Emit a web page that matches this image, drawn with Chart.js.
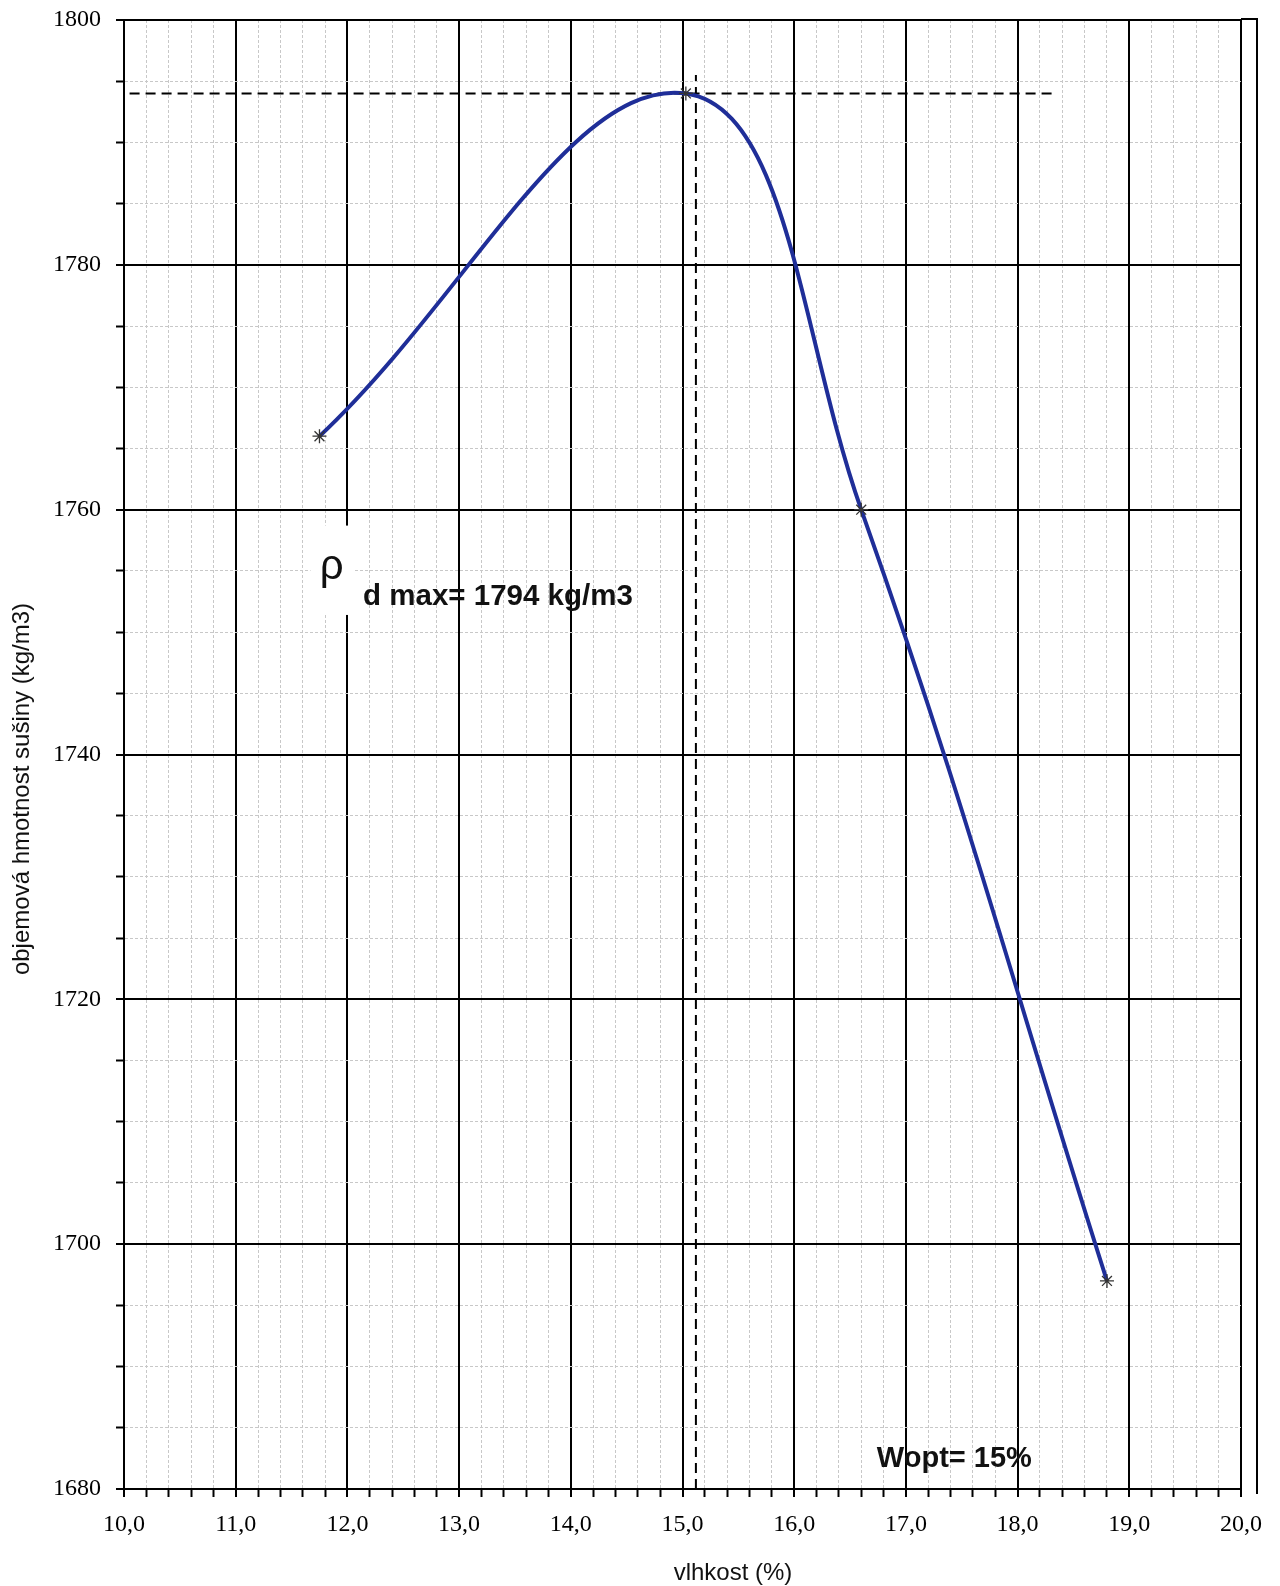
<!DOCTYPE html>
<html>
<head>
<meta charset="utf-8">
<script src="https://cdn.jsdelivr.net/npm/chart.js@4"></script>
<style>
  body { margin: 0; background: #fff; }
  #wrap { width: 1280px; height: 1586px; }
</style>
</head>
<body>
<div id="wrap"><canvas id="proctorChart" width="1280" height="1586"></canvas></div>
<script>
// measured points (moisture % / dry density kg/m3)
const moisture = [11.75, 15.03, 16.6, 18.8];
const density = [1766, 1794, 1760, 1697];

// optimum guide lines
const maxLineX = [10.05, 18.35];
const maxLineY = [1794, 1794];
const optLineX = [15.12, 15.12];
const optLineY = [1680, 1795.5];

const xTitle = 'vlhkost (%)';
const yTitle = 'objemová hmotnost sušiny (kg/m3)';
const rhoText = 'ρ';
const maxText = 'd max= 1794 kg/m3';
const optText = 'Wopt= 15%';

function toPoints(xs, ys) {
  var pts = [];
  for ( let i = 0; i < xs.length; i++ ) {
    pts.push({ x: xs[i], y: ys[i] });
  }
  return pts;
}

function isInt(v) {
  return Math.abs(v - Math.round(v)) < 1e-6;
}

// titles, texts and outer frame
const extras = {
  id: 'extras',
  beforeDatasetsDraw(chart) {
    const c = chart.ctx, x = chart.scales.x, y = chart.scales.y;
    // white box behind rho
    const x1 = x.getPixelForValue(11.67), x2 = x.getPixelForValue(12.05);
    const y1 = y.getPixelForValue(1758.7), y2 = y.getPixelForValue(1751.4);
    c.save();
    c.fillStyle = '#fff';
    c.fillRect(x1, y1, x2 - x1, y2 - y1);
    c.restore();
  },
  afterDraw(chart) {
    const c = chart.ctx, x = chart.scales.x, y = chart.scales.y;
    const a = chart.chartArea;
    c.save();
    // outer frame at right
    c.strokeStyle = '#000';
    c.lineWidth = 2;
    c.beginPath();
    c.moveTo(a.right, a.top - 1);
    c.lineTo(a.right + 16, a.top - 1);
    c.lineTo(a.right + 16, a.bottom + 5);
    c.stroke();

    c.fillStyle = '#111';
    c.textBaseline = 'alphabetic';
    c.font = '42px "Liberation Sans"';
    c.textAlign = 'center';
    c.fillText(rhoText, x.getPixelForValue(11.86), y.getPixelForValue(1754.3));
    c.textAlign = 'left';
    c.font = 'bold 29.5px "Liberation Sans"';
    c.fillText(maxText, x.getPixelForValue(12.14), y.getPixelForValue(1752.2));
    c.font = 'bold 29px "Liberation Sans"';
    c.fillText(optText, x.getPixelForValue(16.74), y.getPixelForValue(1681.8));

    // axis titles
    c.font = '24px "Liberation Sans"';
    c.textAlign = 'center';
    c.textBaseline = 'middle';
    c.fillText(xTitle, 733, 1573);
    c.translate(22, 789);
    c.rotate(-Math.PI / 2);
    c.fillText(yTitle, 0, 0);
    c.restore();
  }
};

const ctx = document.getElementById('proctorChart');
const chart = new Chart(ctx, {
  type: 'scatter',
  data: {
    datasets: [
      {
        label: 'rho d',
        data: toPoints(moisture, density),
        showLine: true,
        tension: 0.4,
        borderColor: '#1f2e98',
        borderWidth: 4,
        pointStyle: 'star',
        pointRadius: 7,
        pointBorderColor: '#333',
        pointBackgroundColor: '#333',
        pointBorderWidth: 1.3,
      },
      {
        label: 'max',
        data: toPoints(maxLineX, maxLineY),
        showLine: true,
        borderColor: '#000',
        borderWidth: 2,
        borderDash: [10, 6],
        pointRadius: 0,
      },
      {
        label: 'opt',
        data: toPoints(optLineX, optLineY),
        showLine: true,
        borderColor: '#000',
        borderWidth: 2,
        borderDash: [10, 6],
        pointRadius: 0,
      },
    ]
  },
  options: {
    responsive: false,
    animation: false,
    layout: { padding: { left: 0, right: 39, top: 20, bottom: 0 } },
    plugins: {
      legend: { display: false },
      tooltip: { enabled: false },
    },
    scales: {
      x: {
        type: 'linear',
        min: 10,
        max: 20,
        afterFit: function(scale) {
          scale.height = 97;
          scale.paddingLeft = 0;
          scale.paddingRight = 0;
        },
        ticks: {
          stepSize: 0.2,
          autoSkip: false,
          maxRotation: 0,
          padding: 13,
          color: '#000',
          font: { family: 'Liberation Serif', size: 24 },
          callback: function(v) { return isInt(v) ? v.toFixed(1).replace('.', ',') : ''; },
        },
        grid: {
          color: function(c) { return c.tick && isInt(c.tick.value) ? '#000' : '#c8c8c8'; },
          lineWidth: function(c) { return c.tick && isInt(c.tick.value) ? 2 : 1; },
          tickColor: '#000',
          tickLength: 8,
          tickWidth: 2,
        },
        border: {
          color: '#000',
          width: 2,
          dash: function(c) { return c.tick && isInt(c.tick.value) ? [] : [3, 2]; },
        },
      },
      y: {
        type: 'linear',
        min: 1680,
        max: 1800,
        afterFit: function(scale) {
          scale.width = 124;
          scale.paddingTop = 0;
          scale.paddingBottom = 0;
        },
        ticks: {
          stepSize: 5,
          autoSkip: false,
          padding: 15,
          color: '#000',
          font: { family: 'Liberation Serif', size: 24 },
          callback: function(v) { return v % 20 === 0 ? v : ''; },
        },
        grid: {
          color: function(c) { return c.tick && c.tick.value % 20 === 0 ? '#000' : '#c8c8c8'; },
          lineWidth: function(c) { return c.tick && c.tick.value % 20 === 0 ? 2 : 1; },
          tickColor: '#000',
          tickLength: 8,
          tickWidth: 2,
        },
        border: {
          color: '#000',
          width: 2,
          dash: function(c) { return c.tick && c.tick.value % 20 === 0 ? [] : [3, 2]; },
        },
      },
    },
  },
  plugins: [extras],
});
</script>
</body>
</html>
